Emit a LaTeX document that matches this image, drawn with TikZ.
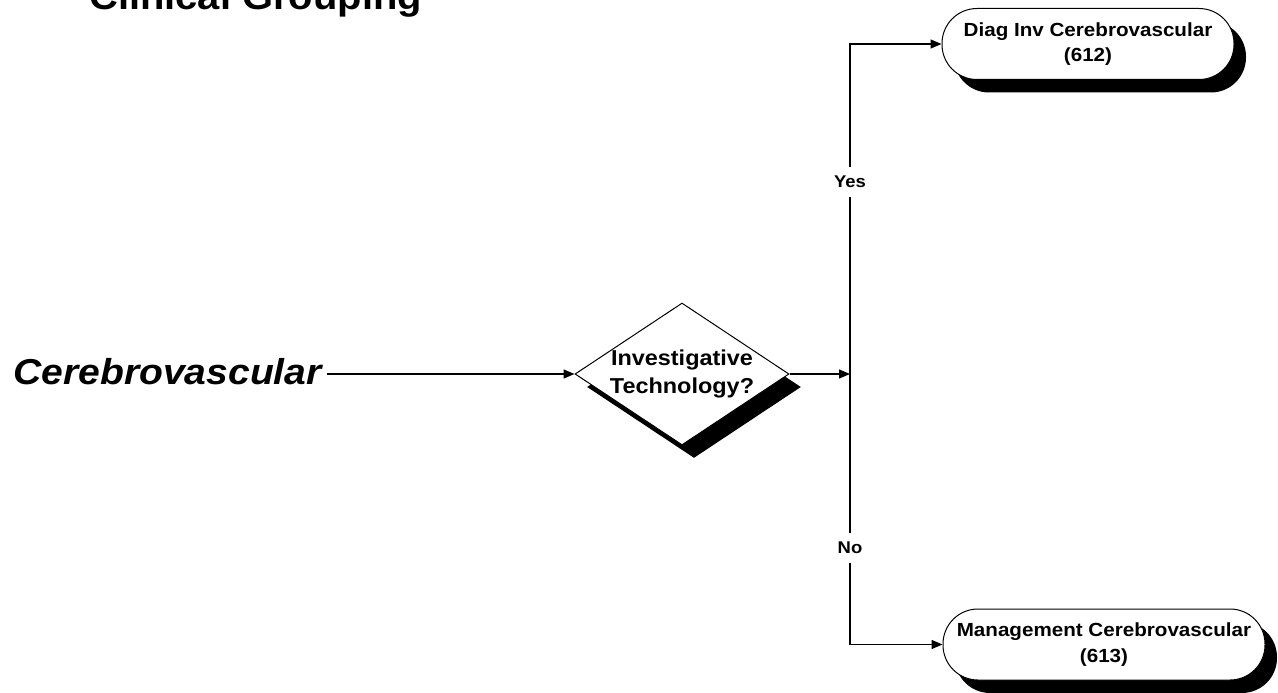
\documentclass[tikz,border=0pt]{standalone}
\usepackage{fontspec}
\setmainfont{Liberation Sans}[FakeStretch=1.085]
\usetikzlibrary{arrows.meta,shapes.geometric,shadows}
\begin{document}
\begin{tikzpicture}[x=1pt,y=-1pt,
  arr/.style={line width=1.4pt, -{Triangle[length=11pt,width=9pt]}},
  term/.style={draw, line width=1pt, fill=white, rounded corners=35pt,
    minimum height=71pt, inner sep=0pt,
    general shadow={fill=black, shadow xshift=12pt, shadow yshift=-13pt},
    font=\fontsize{19}{25.4}\selectfont\bfseries},
  dec/.style={diamond, draw, line width=1pt, fill=white,
    minimum width=214pt, minimum height=142pt, inner sep=0pt,
    general shadow={fill=black, shadow xshift=12pt, shadow yshift=-13pt}},
  lab/.style={fill=white, inner xsep=2pt, inner ysep=9pt,
    font=\fontsize{17}{20}\selectfont\bfseries}]
\useasboundingbox (0,0) rectangle (1278,693);
\fill[white] (0,0) rectangle (1278,693);

\node[anchor=base west, inner sep=0pt, font=\fontsize{36.8}{40}\selectfont\bfseries]
  (title) at (89,10) {Clinical Grouping};

\node[anchor=base east, inner xsep=5pt, inner ysep=0pt,
  font=\fontsize{36}{40}\selectfont\bfseries\itshape]
  (cv) at (327,384) {Cerebrovascular};

\node[dec, label={[font=\fontsize{21.6}{28.3}\selectfont\bfseries, align=center]center:Investigative\\Technology?}]
  (d) at (682,374) {};

\node[term, minimum width=292pt] (t1) at (1088,44)
  {\begin{tabular}{@{}c@{}}Diag Inv Cerebrovascular\\(612)\end{tabular}};
\node[term, minimum width=322pt] (t2) at (1104,644.5)
  {\raisebox{7pt}{\begin{tabular}{@{}c@{}}Management Cerebrovascular\\(613)\end{tabular}}};

\coordinate (j) at (850,374);

\draw[arr] (cv.east |- d.west) -- (d.west);
\draw[arr] (d.east) -- (j);
\draw[arr] (j) |- node[lab, pos=0.291] {Yes} (t1.west);
\draw[arr] (j) |- node[lab, pos=0.321] {No} (t2.west);
\end{tikzpicture}
\end{document}
